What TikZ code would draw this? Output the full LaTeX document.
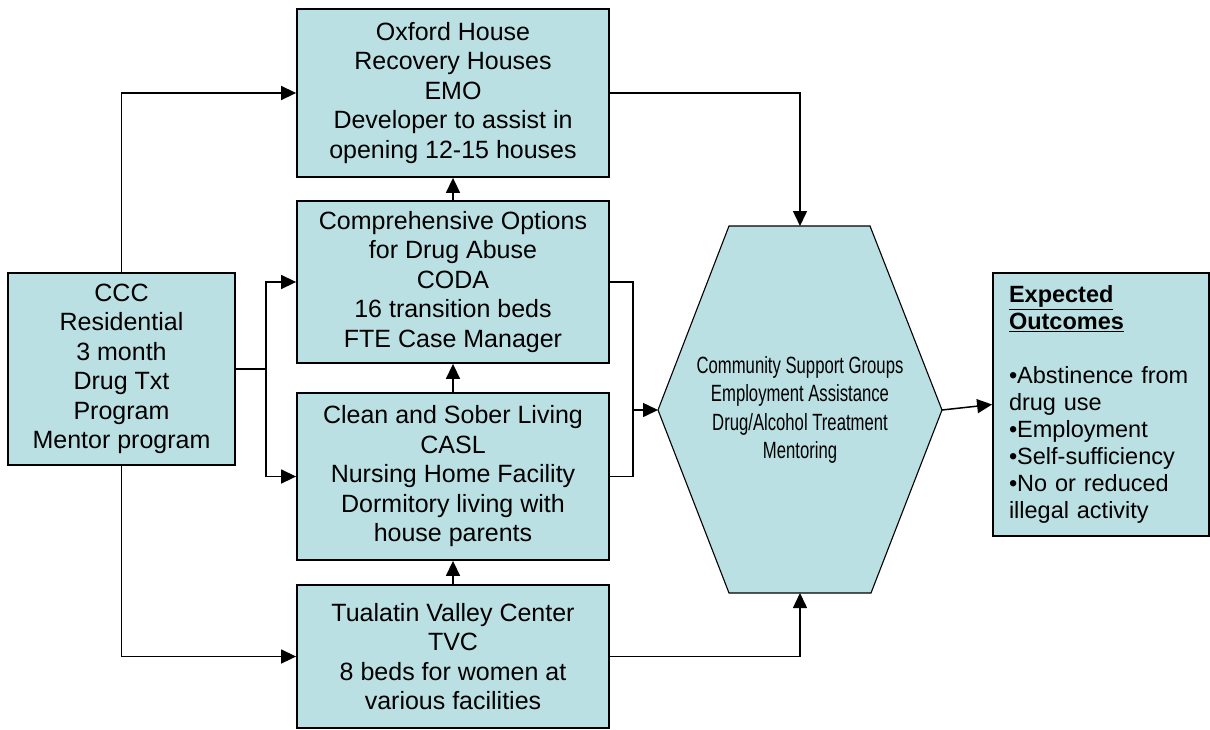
\documentclass[tikz,border=0pt]{standalone}
\usepackage{fontspec}
\setmainfont{Liberation Sans}
\newfontfamily\narrowfont[FakeStretch=0.71]{Liberation Sans}
\usepackage{tikz}
\usetikzlibrary{arrows.meta}
\definecolor{PaleTeal}{RGB}{187,224,227}

\begin{document}
\begin{tikzpicture}[x=1pt,y=-1pt,
  box/.style={draw=black,line width=1.8pt,fill=PaleTeal,align=center,inner sep=0pt,
    font=\fontsize{25}{29.5}\selectfont},
  wire/.style={line width=1.5pt},
  link/.style={wire,-{Triangle[length=15pt,width=14pt]}}]
\useasboundingbox (0,0) rectangle (1210,729);

% program boxes
\node[box,minimum width=227pt,minimum height=192pt] (ccc) at (121.5,369)
{CCC\\Residential\\3 month\\Drug Txt\\Program\\Mentor program};
\node[box,minimum width=312pt,minimum height=168pt] (oxford) at (453,93)
{Oxford House\\Recovery Houses\\EMO\\Developer to assist in\\opening 12-15 houses};
\node[box,minimum width=312pt,minimum height=162pt] (coda) at (453,282)
{Comprehensive Options\\for Drug Abuse\\CODA\\16 transition beds\\FTE Case Manager};
\node[box,minimum width=312pt,minimum height=167pt] (casl) at (453,476.5)
{Clean and Sober Living\\CASL\\Nursing Home Facility\\Dormitory living with\\house parents};
\node[box,minimum width=312pt,minimum height=143pt] (tvc) at (453,656.5)
{Tualatin Valley Center\\TVC\\8 beds for women at\\various facilities};

% services hexagon
\filldraw[fill=PaleTeal,draw=black,line width=1.1pt]
  (729,226) -- (870,226) -- (942,410) -- (871,593) -- (729,593) -- (658,410) -- cycle;
\coordinate (hextop) at (800,226);
\coordinate (hexbot) at (800,593);
\coordinate (hexleft) at (658,410);
\coordinate (hexright) at (942,410);
\node[align=center,font=\narrowfont\fontsize{23.5}{28.5}\selectfont] (hub) at (800,410)
{Community Support Groups\\Employment Assistance\\Drug/Alcohol Treatment\\Mentoring};

% outcomes
\node[box,align=left,minimum height=263pt,text width=184pt,inner xsep=16pt,
  font=\fontsize{23.5}{27}\selectfont] (outcomes) at (1101,404.5)
{\underline{\textbf{Expected}}\\\underline{\textbf{Outcomes}}\\[27pt]
•Abstinence from\\drug use\\•Employment\\•Self-sufficiency\\•No or reduced\\illegal activity};

% connectors
\coordinate (fork) at (266,369);
\coordinate (merge) at (633,410);
\draw[link] (ccc.north) |- (oxford.west);
\draw[wire] (ccc.east) -- (fork);
\draw[link] (fork) |- (coda.west);
\draw[link] (fork) |- (casl.west);
\draw[link] (ccc.south) |- (tvc.west);
\draw[link] (tvc.north) -- (casl.south);
\draw[link] (casl.north) -- (coda.south);
\draw[link] (coda.north) -- (oxford.south);
\draw[link] (oxford.east) -| (hextop);
\draw[link] (tvc.east) -| (hexbot);
\draw[wire] (coda.east) -| (merge) |- (casl.east);
\draw[link] (merge) -- (hexleft);
\draw[link] (hexright) -- (outcomes.west);
\end{tikzpicture}
\end{document}
